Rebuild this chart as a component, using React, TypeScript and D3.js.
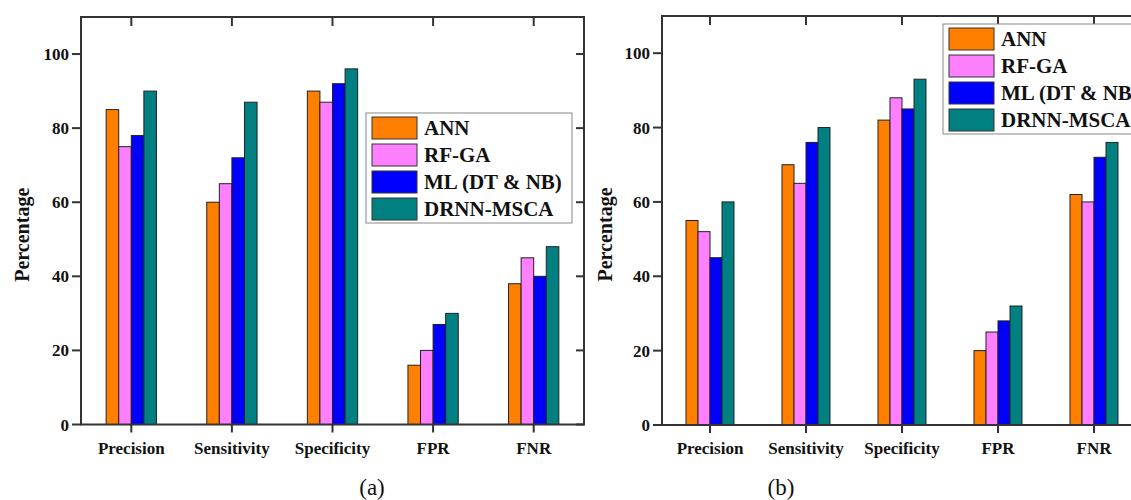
import { useEffect, useRef } from "react"
import * as d3 from "d3"

const categories = ["Precision", "Sensitivity", "Specificity", "FPR", "FNR"]
const seriesNames = ["ANN", "RF-GA", "ML (DT & NB)", "DRNN-MSCA"]
const seriesColors = ["#ff8000", "#ff80ff", "#0000ff", "#008080"]
const yTicks = [0, 20, 40, 60, 80, 100]

// values per category, in series order
const valuesA = [
  [85, 75, 78, 90],
  [60, 65, 72, 87],
  [90, 87, 92, 96],
  [16, 20, 27, 30],
  [38, 45, 40, 48],
]
const valuesB = [
  [55, 52, 45, 60],
  [70, 65, 76, 80],
  [82, 88, 85, 93],
  [20, 25, 28, 32],
  [62, 60, 72, 76],
]

const FONT = "'Liberation Serif', 'Times New Roman', serif"
const AXIS = "#333"

const panels = [
  { values: valuesA, x0: 81, x1: 584, top: 17, bottom: 424.5, labelX: 22, legend: { x: 366, y: 113, w: 206 }, caption: "(a)", capX: 372 },
  { values: valuesB, x0: 662, x1: 1142, top: 16, bottom: 425, labelX: 605, legend: { x: 943, y: 24, w: 220 }, caption: "(b)", capX: 781 },
]

export default function App() {
  const svgRef = useRef(null)

  useEffect(() => {
    const svg = d3.select(svgRef.current)
    svg.selectAll("*").remove()

    panels.forEach(p => {
      const g = svg.append("g")
      const x = d3.scaleBand().domain(categories).range([p.x0, p.x1]).padding(0)
      const bw = x.bandwidth()
      const xs = d3.scaleBand().domain(seriesNames).range([0, bw * 0.5])
      const y = d3.scaleLinear().domain([0, 110]).range([p.bottom, p.top])

      // bars
      categories.forEach((c, ci) => {
        g.append("g")
          .selectAll("rect")
          .data(seriesNames)
          .join("rect")
          .attr("x", s => x(c) + bw * 0.25 + xs(s))
          .attr("y", (s, si) => y(p.values[ci][si]))
          .attr("width", xs.bandwidth())
          .attr("height", (s, si) => y(0) - y(p.values[ci][si]))
          .attr("fill", (s, si) => seriesColors[si])
          .attr("stroke", "#222")
          .attr("stroke-width", 1)
      })

      // frame
      g.append("rect")
        .attr("x", p.x0).attr("y", p.top)
        .attr("width", p.x1 - p.x0).attr("height", p.bottom - p.top)
        .attr("fill", "none").attr("stroke", AXIS).attr("stroke-width", 2)

      // y ticks: outward left, inward right
      yTicks.forEach(t => {
        g.append("line").attr("x1", p.x0 - 9).attr("x2", p.x0)
          .attr("y1", y(t)).attr("y2", y(t)).attr("stroke", AXIS).attr("stroke-width", 2)
        g.append("line").attr("x1", p.x1 - 8).attr("x2", p.x1)
          .attr("y1", y(t)).attr("y2", y(t)).attr("stroke", AXIS).attr("stroke-width", 2)
        g.append("text").attr("x", p.x0 - 12).attr("y", y(t) + 6)
          .attr("text-anchor", "end").attr("font-family", FONT)
          .attr("font-weight", "bold").attr("font-size", 17).attr("fill", "#111")
          .text(t)
      })

      // x ticks: outward bottom, inward top
      categories.forEach(c => {
        const cx = x(c) + bw / 2
        g.append("line").attr("x1", cx).attr("x2", cx)
          .attr("y1", p.bottom).attr("y2", p.bottom + 8).attr("stroke", AXIS).attr("stroke-width", 2)
        g.append("line").attr("x1", cx).attr("x2", cx)
          .attr("y1", p.top).attr("y2", p.top + 9).attr("stroke", AXIS).attr("stroke-width", 2)
        g.append("text").attr("x", cx).attr("y", p.bottom + 29)
          .attr("text-anchor", "middle").attr("font-family", FONT)
          .attr("font-weight", "bold").attr("font-size", 17).attr("fill", "#111")
          .text(c)
      })

      // y label
      g.append("text")
        .attr("transform", `translate(${p.labelX + 7},${(p.top + p.bottom) / 2 + 14}) rotate(-90)`)
        .attr("text-anchor", "middle").attr("font-family", FONT)
        .attr("font-weight", "bold").attr("font-size", 20).attr("fill", "#111")
        .text("Percentage")

      // legend
      const lg = g.append("g").attr("transform", `translate(${p.legend.x},${p.legend.y})`)
      lg.append("rect").attr("width", p.legend.w).attr("height", 110)
        .attr("fill", "#fff").attr("stroke", "#888").attr("stroke-width", 1)
      seriesNames.forEach((s, i) => {
        lg.append("rect").attr("x", 6).attr("y", 4 + i * 27)
          .attr("width", 45).attr("height", 22)
          .attr("fill", seriesColors[i]).attr("stroke", "#333").attr("stroke-width", 1)
        lg.append("text").attr("x", 58).attr("y", 4 + i * 27 + 18)
          .attr("font-family", FONT).attr("font-weight", "bold")
          .attr("font-size", 21).attr("fill", "#111")
          .text(s)
      })

      // caption
      svg.append("text").attr("x", p.capX).attr("y", 495)
        .attr("text-anchor", "middle").attr("font-family", FONT)
        .attr("font-size", 23).attr("fill", "#111")
        .text(p.caption)
    })
  }, [])

  return (
    <svg ref={svgRef} width={1131} height={500}
      style={{ position: "absolute", left: 0, top: 0, background: "#fff" }} />
  )
}
